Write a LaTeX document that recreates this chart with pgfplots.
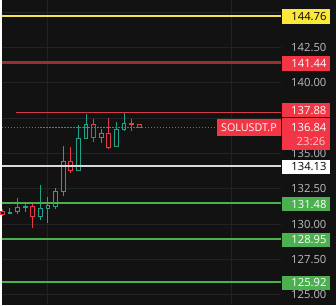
\documentclass[border=0pt]{standalone}
\usepackage{pgfplots}
\pgfplotsset{compat=1.18}
\usepackage{fontspec}
\setmainfont{Open Sans}
\definecolor{bg}{HTML}{121212}
\definecolor{gridc}{HTML}{232323}
\definecolor{up}{HTML}{1FA38C}
\definecolor{dn}{HTML}{E8394A}
\definecolor{redl}{HTML}{F23645}
\definecolor{thinred}{HTML}{D63A46}
\definecolor{darkred}{HTML}{963037}
\definecolor{yel}{HTML}{F4E15A}
\definecolor{yelbox}{HTML}{FBE83A}
\definecolor{grn}{HTML}{4CAF50}
\definecolor{wht}{HTML}{D9D9D9}
\definecolor{tick}{HTML}{BDBDBD}
\definecolor{pink}{HTML}{F9C9CE}
\newcommand{\lbl}{\fontsize{11.3}{13}\selectfont}
% xl x xr open high low close colour
\newcommand{\candle}[8]{%
  \addplot[#8, line width=1pt] coordinates {(#2,#6) (#2,#5)};
  \addplot[draw=#8, fill=bg, line width=1pt] coordinates {(#1,#4) (#3,#4) (#3,#7) (#1,#7)} -- cycle;
}
\newcommand{\pricebox}[4]{%
  \node[fill=#2, text=#3, minimum height=14.5pt, inner ysep=0pt, inner xsep=3.5pt,
        text width=41pt, align=right, anchor=center, yshift=-1pt, font=\lbl]
        at (axis cs:306,#1) {#4};
}
\newcommand{\ticklbl}[2]{%
  \node[anchor=east, text=tick, font=\lbl, inner sep=0pt] at (axis cs:326.5,#1) {#2};
}
\begin{document}
\begin{tikzpicture}
\begin{axis}[scale only axis, width=336pt, height=306pt,
  xmin=0, xmax=336, ymin=124.282, ymax=145.831,
  axis lines=none, ticks=none, clip=false]
\addplot[fill=bg, draw=none] coordinates {(0,124.282) (336,124.282) (336,145.831) (0,145.831)} -- cycle;
% grid
\pgfplotsinvokeforeach{125,127.5,130,132.5,135,137.5,140,142.5,145}{
  \addplot[gridc, line width=1pt] coordinates {(0,#1) (281,#1)};
}
\addplot[gridc, line width=1pt] coordinates {(46.3,124.282) (46.3,145.831)};
\addplot[gridc, line width=1pt] coordinates {(230.7,124.282) (230.7,145.831)};
% candles
\candle{-1.2}{0.70}{2.6}{130.93}{131.04}{130.57}{130.69}{dn}
\candle{6.44}{8.34}{10.24}{130.74}{131.16}{130.74}{130.85}{up}
\candle{14.08}{15.98}{17.88}{130.88}{131.86}{130.69}{131.16}{up}
\candle{21.72}{23.62}{25.52}{131.16}{131.47}{130.88}{131.25}{up}
\candle{29.36}{31.26}{33.16}{131.23}{131.40}{129.75}{130.57}{dn}
\candle{37.00}{38.90}{40.80}{130.57}{132.80}{130.29}{131.09}{up}
\candle{44.64}{46.54}{48.44}{131.09}{131.93}{130.10}{131.32}{up}
\candle{52.28}{54.18}{56.08}{131.28}{132.57}{131.04}{132.31}{up}
\candle{59.92}{61.82}{63.72}{132.29}{135.55}{131.98}{134.40}{up}
\candle{67.56}{69.46}{71.36}{134.40}{135.46}{133.63}{133.81}{dn}
\candle{75.20}{77.10}{79.00}{133.81}{137.03}{133.81}{136.09}{up}
\candle{82.84}{84.74}{86.64}{136.09}{137.80}{136.09}{137.03}{up}
\candle{90.48}{92.38}{94.28}{137.03}{137.45}{135.85}{136.16}{dn}
\candle{98.12}{100.02}{101.92}{136.16}{136.75}{135.74}{136.40}{up}
\candle{105.76}{107.66}{109.56}{136.40}{137.50}{135.34}{135.43}{dn}
\candle{113.40}{115.30}{117.20}{135.50}{137.22}{135.50}{136.72}{up}
\candle{121.04}{122.94}{124.84}{136.72}{137.90}{136.56}{137.15}{up}
\candle{128.68}{130.58}{132.48}{137.15}{137.45}{136.56}{137.05}{dn}
\candle{136.32}{138.22}{140.12}{137.08}{137.08}{136.84}{136.84}{dn}
% level lines
\addplot[yel, line width=2pt] coordinates {(0,144.76) (281,144.76)};
\addplot[darkred, line width=2.2pt] coordinates {(0,141.44) (281,141.44)};
\addplot[thinred, line width=1pt] coordinates {(14,137.88) (281,137.88)};
\addplot[redl, line width=1pt, dash pattern=on 1.5pt off 1.5pt] coordinates {(0,136.84) (216,136.84)};
\addplot[wht, line width=2pt] coordinates {(0,134.13) (281,134.13)};
\addplot[grn, line width=2pt] coordinates {(0,131.48) (281,131.48)};
\addplot[grn, line width=2pt] coordinates {(0,128.95) (281,128.95)};
\addplot[grn, line width=1.5pt] coordinates {(0,125.92) (281,125.92)};
% tick labels
\ticklbl{142.5}{142.50}
\ticklbl{140}{140.00}
\ticklbl{135}{135.00}
\ticklbl{132.5}{132.50}
\ticklbl{130}{130.00}
\ticklbl{127.5}{127.50}
\ticklbl{125}{125.00}
% price boxes
\pricebox{144.76}{yelbox}{black}{144.76}
\pricebox{141.44}{redl}{white}{141.44}
\pricebox{134.13}{white}{black}{134.13}
\pricebox{131.48}{grn}{white}{131.48}
\pricebox{128.95}{grn}{white}{128.95}
\pricebox{125.92}{grn}{white}{125.92}
\fill[redl] (axis cs:282,138.60) rectangle (axis cs:330,137.55);
\node[anchor=east, text=white, font=\lbl, inner sep=0pt] at (axis cs:326.5,138.06) {137.88};
\fill[redl] (axis cs:282,137.48) rectangle (axis cs:330,135.27);
\node[anchor=east, text=white, font=\lbl, inner sep=0pt] at (axis cs:326.5,136.86) {136.84};
\node[anchor=east, text=pink, font=\lbl, inner sep=0pt] at (axis cs:325.5,135.85) {23:26};
\fill[redl] (axis cs:216,137.45) rectangle (axis cs:281,136.25);
\node[text=white, font=\fontsize{10.8}{12}\selectfont, inner sep=0pt] at (axis cs:248.5,136.85) {SOLUSDT.P};
\end{axis}
\end{tikzpicture}
\end{document}
